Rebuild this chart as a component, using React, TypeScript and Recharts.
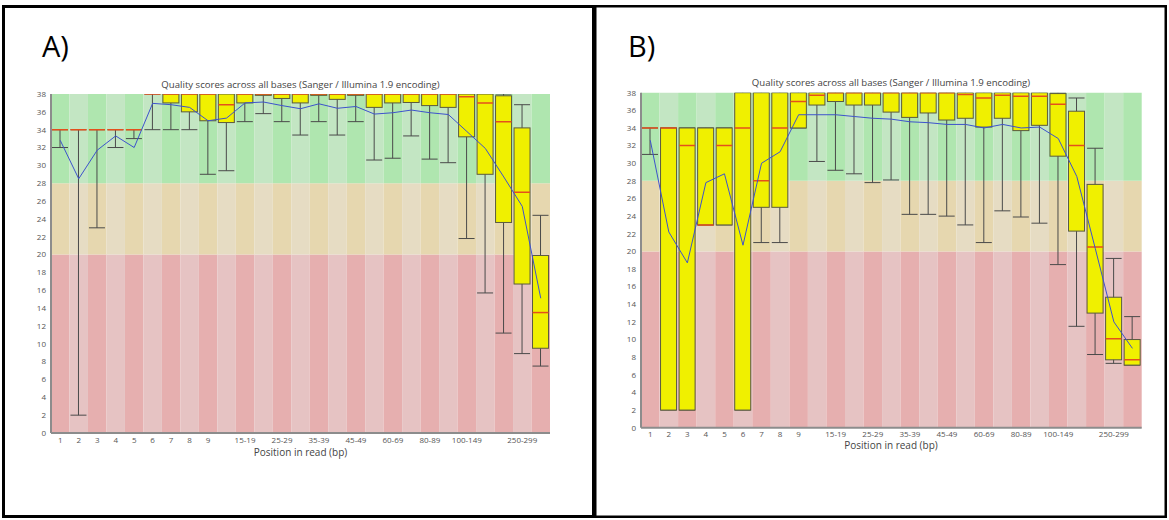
import React from 'react';
import { ComposedChart, Bar, Line, XAxis, YAxis, ReferenceArea } from 'recharts';

// Read positions (FastQC grouping for 301 bp reads)
const POSITIONS = [
  '1', '2', '3', '4', '5', '6', '7', '8', '9',
  '10-14', '15-19', '20-24', '25-29', '30-34', '35-39', '40-44', '45-49',
  '50-59', '60-69', '70-79', '80-89', '90-99',
  '100-149', '150-199', '200-249', '250-299', '300-301',
];
const LABELLED_POSITIONS = [
  '1', '2', '3', '4', '5', '6', '7', '8', '9',
  '15-19', '25-29', '35-39', '45-49', '60-69', '80-89', '100-149', '250-299',
];
const QUALITY_TICKS = [0, 2, 4, 6, 8, 10, 12, 14, 16, 18, 20, 22, 24, 26, 28, 30, 32, 34, 36, 38];
// bad / reasonable / good quality bands
const ZONE_EDGES = [0, 20, 28, 38];

const TITLE = 'Quality scores across all bases (Sanger / Illumina 1.9 encoding)';
const X_TITLE = 'Position in read (bp)';

// Sample A: 10th percentile, lower quartile, median, upper quartile, 90th percentile, mean
const A_P10 = [32, 2, 23, 32, 33, 34, 34, 34, 29, 29.4, 34.9, 35.8, 34.9, 33.4, 34.9, 33.4, 34.9, 30.6, 30.8, 33.3, 30.7, 30.3, 21.8, 15.7, 11.2, 8.9, 7.5];
const A_Q1 = [34, 34, 34, 34, 34, 38, 37, 36, 35, 34.8, 37, 37.85, 37.5, 37, 37.85, 37.4, 37.85, 36.5, 37, 37.05, 36.7, 36.5, 33.2, 29, 23.6, 16.7, 9.5];
const A_MEDIAN = [34, 34, 34, 34, 34, 38, 38, 38, 38, 36.8, 38, 38, 38, 38, 38, 38, 38, 38, 38, 38, 38, 38, 37.7, 37, 34.9, 27, 13.5];
const A_Q3 = [34, 34, 34, 34, 34, 38, 38, 38, 38, 38, 38, 38, 38, 38, 38, 38, 38, 38, 38, 38, 38, 38, 38, 38, 37.8, 34.2, 19.9];
const A_P90 = [34, 34, 34, 34, 34, 38, 38, 38, 38, 38, 38, 38, 38, 38, 38, 38, 38, 38, 38, 38, 38, 38, 38, 38, 38, 36.8, 24.4];
const A_MEAN = [32.8, 28.5, 31.7, 33.3, 32.0, 36.95, 36.8, 36.5, 35.0, 35.3, 37.0, 37.1, 36.7, 36.35, 36.9, 36.4, 36.6, 35.75, 35.9, 36.2, 35.9, 35.7, 33.8, 31.9, 28.7, 25.4, 15.1];

// Sample B
const B_P10 = [31, 2, 2, 23, 23, 2, 21, 21, 34, 30.2, 29.2, 28.8, 27.8, 28.1, 24.2, 24.2, 24.0, 23.0, 21.0, 24.6, 23.9, 23.2, 18.5, 11.5, 8.3, 7.3, 7.1];
const B_Q1 = [34, 2, 2, 23, 23, 2, 25, 25, 34, 36.6, 37.0, 36.6, 36.6, 35.8, 35.2, 35.7, 34.9, 35.1, 34.1, 35.1, 33.7, 34.3, 30.8, 22.3, 13.0, 7.7, 7.1];
const B_MEDIAN = [34, 34, 32, 23, 32, 34, 28, 34, 37, 37.7, 38, 38, 38, 38, 38, 38, 38, 37.8, 37.4, 37.7, 37.6, 37.6, 36.7, 32.0, 20.5, 10.1, 7.7];
const B_Q3 = [34, 34, 34, 34, 34, 38, 38, 38, 38, 38, 38, 38, 38, 38, 38, 38, 38, 38, 38, 38, 38, 38, 37.9, 35.9, 27.6, 14.8, 10.0];
const B_P90 = [34, 34, 34, 34, 34, 38, 38, 38, 38, 38, 38, 38, 38, 38, 38, 38, 38, 38, 38, 38, 38, 38, 38, 37.4, 31.7, 19.2, 12.6];
const B_MEAN = [32.6, 22.2, 18.7, 27.8, 28.8, 20.7, 30.0, 31.3, 35.5, 35.5, 35.5, 35.3, 35.1, 35.0, 34.7, 34.6, 34.4, 34.4, 34.0, 34.4, 34.0, 34.1, 32.8, 28.5, 20.3, 12.0, 9.0];

type Row = { pos: string; p10: number; q1: number; median: number; q3: number; p90: number; mean: number };

function buildRows(p10: number[], q1: number[], median: number[], q3: number[], p90: number[], mean: number[]): Row[] {
  return POSITIONS.map((pos, i) => ({ pos, p10: p10[i], q1: q1[i], median: median[i], q3: q3[i], p90: p90[i], mean: mean[i] }));
}

const ROWS_A = buildRows(A_P10, A_Q1, A_MEDIAN, A_Q3, A_P90, A_MEAN);
const ROWS_B = buildRows(B_P10, B_Q1, B_MEDIAN, B_Q3, B_P90, B_MEAN);

// alternating dark / light shading for each quality band
const ZONE_COLORS = [
  ['#e6afaf', '#e6c3c3'],
  ['#e6d7af', '#e6dcc3'],
  ['#afe6af', '#c3e6c3'],
];

const FONT = '"Open Sans", "DejaVu Sans", sans-serif';
const AXIS_GREY = '#8c8c8c';
const TEXT_GREY = '#555';

// Whisker + box + median, scaled from the p10..p90 range bar geometry
const BoxShape = (props: any) => {
  const { x, y, width, height, payload } = props;
  if (payload == null || height == null) return null;
  const { p10, q1, median, q3, p90 } = payload as Row;
  const k = height / (p90 - p10);
  const py = (v: number) => y + (p90 - v) * k;
  const cx = x + width / 2;
  return (
    <g>
      <line x1={cx} x2={cx} y1={py(p90)} y2={py(p10)} stroke="#4a4a4a" strokeWidth={1} />
      <line x1={x} x2={x + width} y1={py(p90)} y2={py(p90)} stroke="#4a4a4a" strokeWidth={1} />
      <line x1={x} x2={x + width} y1={py(p10)} y2={py(p10)} stroke="#4a4a4a" strokeWidth={1} />
      <rect x={x} y={py(q3)} width={width} height={py(q1) - py(q3)} fill="#f0f000" stroke="#5a5a40" strokeWidth={1} />
      <line x1={x} x2={x + width} y1={py(median)} y2={py(median)} stroke="#e4501c" strokeWidth={1.5} />
    </g>
  );
};

function QualityChart({ rows, margin }: { rows: Row[]; margin: { top: number; right: number; bottom: number; left: number } }) {
  return (
    <ComposedChart width={560} height={400} data={rows} margin={margin}>
      {POSITIONS.map((pos, i) =>
        ZONE_EDGES.slice(1).map((top, z) => (
          <ReferenceArea
            key={`${pos}-${z}`}
            x1={pos}
            x2={pos}
            y1={ZONE_EDGES[z]}
            y2={top}
            fill={ZONE_COLORS[z][i % 2]}
            fillOpacity={1}
            stroke="none"
            ifOverflow="visible"
          />
        ))
      )}
      <XAxis
        dataKey="pos"
        type="category"
        interval={0}
        height={30}
        tickSize={0}
        tickMargin={4}
        tickLine={false}
        axisLine={{ stroke: AXIS_GREY, strokeWidth: 2 }}
        tickFormatter={(v: string) => (LABELLED_POSITIONS.includes(v) ? v : '')}
        tick={{ fontSize: 8, fill: TEXT_GREY, fontFamily: FONT }}
      />
      <YAxis
        domain={[0, 38]}
        ticks={QUALITY_TICKS}
        interval={0}
        width={30}
        tickSize={0}
        tickMargin={5}
        tickLine={false}
        allowDataOverflow
        axisLine={{ stroke: AXIS_GREY, strokeWidth: 2 }}
        tick={{ fontSize: 8, fill: TEXT_GREY, fontFamily: FONT }}
      />
      <Bar
        dataKey={(d: Row) => [d.p10, d.p90]}
        barSize={16}
        shape={(p: any) => <BoxShape {...p} />}
        isAnimationActive={false}
      />
      <Line type="linear" dataKey="mean" stroke="#3d52cc" strokeWidth={1} dot={false} isAnimationActive={false} />
    </ComposedChart>
  );
}

export default function App() {
  return (
    <div style={{ position: 'absolute', left: 0, top: 0, width: 1169, height: 520, background: '#fff', overflow: 'hidden' }}>
      <svg width={1169} height={520} style={{ position: 'absolute', left: 0, top: 0 }}>
        <rect x={3.5} y={6.5} width={590} height={510} fill="none" stroke="#000" strokeWidth={3} />
        <rect x={595.25} y={6.25} width={570.5} height={510.5} fill="none" stroke="#000" strokeWidth={2.5} />
        <text x={42} y={57} fontFamily={FONT} fontSize={29} fill="#000">A)</text>
        <text x={628} y={57} fontFamily={FONT} fontSize={29} fill="#000">B)</text>
        <text x={300.5} y={84} textAnchor="middle" dominantBaseline="central" fontFamily={FONT} fontSize={9.6} fill="#444">{TITLE}</text>
        <text x={891} y={82.5} textAnchor="middle" dominantBaseline="central" fontFamily={FONT} fontSize={9.6} fill="#444">{TITLE}</text>
        <text x={300.5} y={452} textAnchor="middle" dominantBaseline="central" fontFamily={FONT} fontSize={10} fill="#444">{X_TITLE}</text>
        <text x={891} y={444.5} textAnchor="middle" dominantBaseline="central" fontFamily={FONT} fontSize={10} fill="#444">{X_TITLE}</text>
      </svg>
      <div style={{ position: 'absolute', left: 10, top: 70 }}>
        <QualityChart rows={ROWS_A} margin={{ top: 24, right: 20, bottom: 7, left: 11 }} />
      </div>
      <div style={{ position: 'absolute', left: 600, top: 70 }}>
        <QualityChart rows={ROWS_B} margin={{ top: 22.7, right: 18.3, bottom: 12.3, left: 11 }} />
      </div>
    </div>
  );
}
